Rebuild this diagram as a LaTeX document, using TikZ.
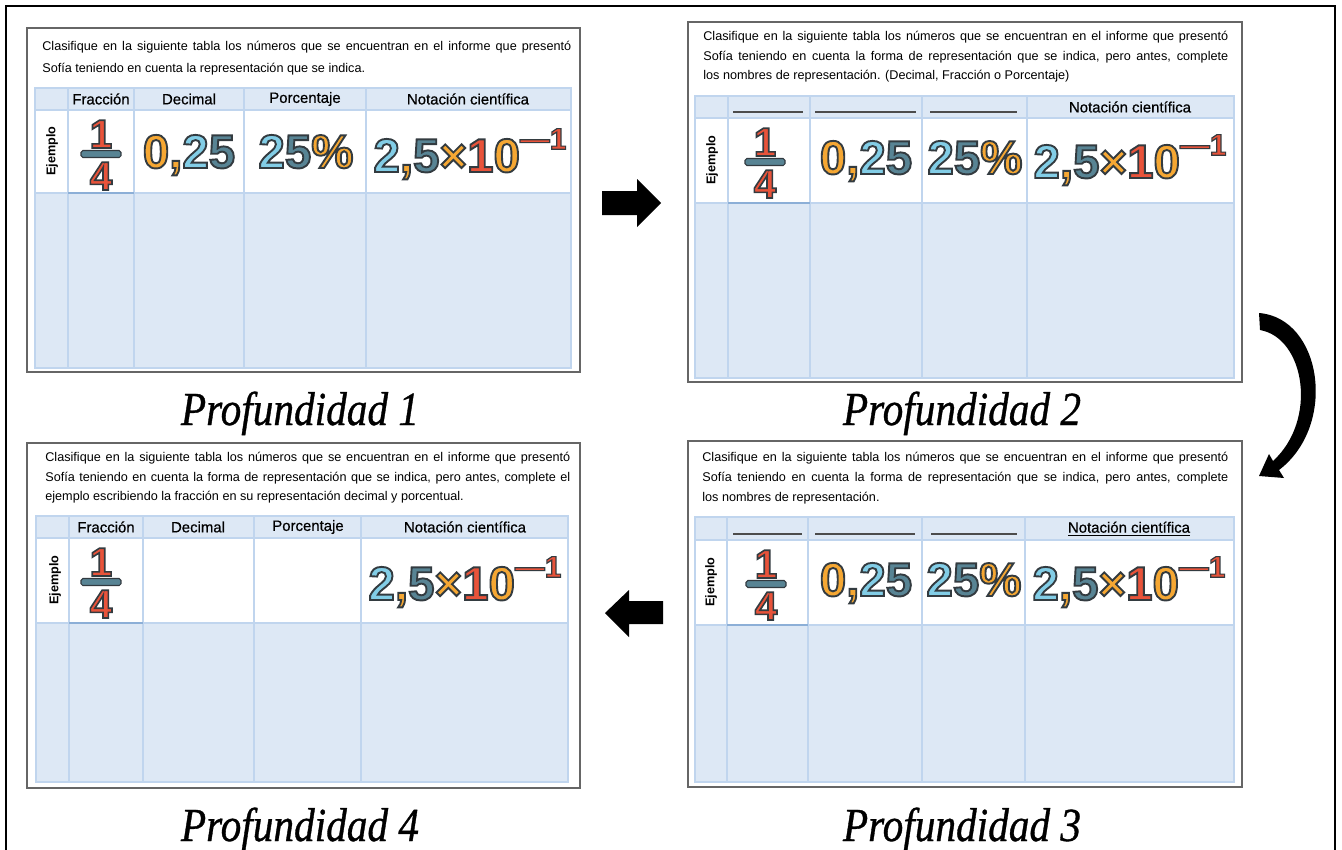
\documentclass[tikz,border=0pt]{standalone}
\usepackage{fontspec}
\usepackage{graphicx}
\usepackage{tikz}
\usetikzlibrary{calc}
\newfontfamily\bodyfont{Liberation Sans}
\newfontfamily\headfont{Liberation Sans}[FakeBold=0.6]
\newfontfamily\numfont{Liberation Sans}[UprightFont={* Bold},FakeBold=4]
\newfontfamily\titlefont{Liberation Serif}[UprightFont={* Italic},FakeBold=0.8]
\definecolor{tbl_blue}{RGB}{221, 232, 245}
\definecolor{grid_blue}{RGB}{192, 213, 238}
\definecolor{frac_line}{RGB}{140, 175, 215}
\definecolor{num_red}{RGB}{232, 83, 58}
\definecolor{num_orange}{RGB}{245, 167, 51}
\definecolor{num_light}{RGB}{130, 205, 230}
\definecolor{num_teal}{RGB}{88, 132, 148}
\definecolor{num_line}{RGB}{50, 58, 64}
\newcommand{\fline}[2]{\makebox[#1][s]{#2}}
\newcommand{\dg}[2]{\textcolor{#1}{\special{pdf:code 0.20 0.23 0.25 RG}#2}}
\newcommand{\decnum}{\dg{num_orange}{0,}\dg{num_light}{2}\dg{num_teal}{5}}
\newcommand{\pctnum}{\dg{num_light}{2}\dg{num_teal}{5}\dg{num_orange}{\%}}
\newcommand{\scinum}{\dg{num_light}{2}\dg{num_orange}{,}\dg{num_teal}{5}\dg{num_orange}{×}\dg{num_red}{1}\dg{num_orange}{0}%
  \raisebox{13pt}{\fontsize{17}{17}\selectfont\dg{num_red}{—1}}}
\tikzstyle{panel}=[draw=black!60,line width=0.9pt,fill=white]
\tikzstyle{grid}=[draw=grid_blue,line width=0.7pt]
\tikzstyle{fracline}=[draw=frac_line,line width=0.9pt]
\tikzstyle{body}=[anchor=west,inner sep=0pt,font=\bodyfont\fontsize{7.2}{9}\selectfont]
\tikzstyle{head}=[inner sep=0pt,font=\headfont\fontsize{8.5}{10}\selectfont]
\tikzstyle{ejem}=[rotate=90,inner sep=0pt,font=\bodyfont\bfseries\fontsize{7.2}{9}\selectfont]
\tikzstyle{big}=[anchor=base,inner sep=0pt,font=\numfont\fontsize{27}{30}\selectfont]
\tikzstyle{frac}=[anchor=base,inner sep=0pt,font=\numfont\fontsize{23}{24}\selectfont]
\tikzstyle{fbar}=[rectangle,rounded corners=1pt,fill=num_teal,draw=num_line,line width=0.6pt,
  minimum width=0.8cm,minimum height=0.14cm,inner sep=0pt]
\tikzstyle{blank}=[draw=black!70,line width=0.6pt]
\tikzstyle{title}=[anchor=base,inner sep=0pt,font=\titlefont\fontsize{27}{30}\selectfont]
\tikzstyle{bigarrow}=[fill=black]

\begin{document}
\begin{tikzpicture}[x=0.02cm,y=-0.02cm]
    \useasboundingbox (0,0) rectangle (1342,849);
    \draw [line width=1.6pt] (6,870) -- (6,6) -- (1335,6) -- (1335,870);
    % Profundidad 1
    \draw [style=panel] (27,28) rectangle (580,372);
    \node [style=body] (t1a) at (42,47) {\fline{10.58cm}{Clasifique en la siguiente tabla los números que se encuentran en el informe que presentó}};
    \node [style=body] (t1b) at (42,69) {Sofía teniendo en cuenta la representación que se indica.};
    \fill [tbl_blue] (35,88) rectangle (571,368);
    \fill [white] (35,110) rectangle (571,193);
    \draw [style=grid] (35,88) rectangle (571,368) (35,110) -- (571,110) (35,193) -- (571,193)
        (68,88) -- (68,368) (134,88) -- (134,368) (244,88) -- (244,368) (366,88) -- (366,368);
    \draw [style=fracline] (68,193) -- (134,193);
    \node [style=head] (h1a) at (101,99) {Fracción};
    \node [style=head] (h1b) at (189,99) {Decimal};
    \node [style=head] (h1c) at (305,99) {Porcentaje};
    \node [style=head] (h1d) at (468,99) {Notación científica};
    \node [style=ejem] (e1) at (52,151) {Ejemplo};
    \node [style=frac] (f1n) at (101,148) {\dg{num_red}{1}};
    \node [style=fbar] (f1b) at (101,154) {};
    \node [style=frac] (f1d) at (101,190) {\dg{num_red}{4}};
    \node [style=big] (d1) at (189,168) {\decnum};
    \node [style=big] (p1) at (306,168) {\pctnum};
    \node [style=big] (s1) at (470,172) {\scinum};
    \node [style=title] (T1) at (300,425) {\scalebox{0.87}[1]{Profundidad 1}};
    % Profundidad 2
    \draw [style=panel] (688,22) rectangle (1242,382);
    \node [style=body] (t2a) at (703,37) {\fline{10.5cm}{Clasifique en la siguiente tabla los números que se encuentran en el informe que presentó}};
    \node [style=body] (t2b) at (703,57) {\fline{10.5cm}{Sofía teniendo en cuenta la forma de representación que se indica, pero antes, complete}};
    \node [style=body] (t2c) at (703,76) {los nombres de representación. (Decimal, Fracción o Porcentaje)};
    \fill [tbl_blue] (695,96) rectangle (1234,378);
    \fill [white] (695,118) rectangle (1234,203);
    \draw [style=grid] (695,96) rectangle (1234,378) (695,118) -- (1234,118) (695,203) -- (1234,203)
        (728,96) -- (728,378) (810,96) -- (810,378) (922,96) -- (922,378) (1027,96) -- (1027,378);
    \draw [style=fracline] (728,203) -- (810,203);
    \draw [style=blank] (733,112) -- (803,112) (815,112) -- (916,112) (930,112) -- (1017,112);
    \node [style=head] (h2d) at (1130,107) {Notación científica};
    \node [style=ejem] (e2) at (712,160) {Ejemplo};
    \node [style=frac] (f2n) at (765,156) {\dg{num_red}{1}};
    \node [style=fbar] (f2b) at (765,162) {};
    \node [style=frac] (f2d) at (765,198) {\dg{num_red}{4}};
    \node [style=big] (d2) at (866,174) {\decnum};
    \node [style=big] (p2) at (975,174) {\pctnum};
    \node [style=big] (s2) at (1130,178) {\scinum};
    \node [style=title] (T2) at (962,425) {\scalebox{0.87}[1]{Profundidad 2}};
    % Profundidad 3
    \draw [style=panel] (688,441) rectangle (1242,787);
    \node [style=body] (t3a) at (702,458) {\fline{10.52cm}{Clasifique en la siguiente tabla los números que se encuentran en el informe que presentó}};
    \node [style=body] (t3b) at (702,478) {\fline{10.52cm}{Sofía teniendo en cuenta la forma de representación que se indica, pero antes, complete}};
    \node [style=body] (t3c) at (702,498) {los nombres de representación.};
    \fill [tbl_blue] (695,517) rectangle (1234,782);
    \fill [white] (695,540) rectangle (1234,625);
    \draw [style=grid] (695,517) rectangle (1234,782) (695,540) -- (1234,540) (695,625) -- (1234,625)
        (727,517) -- (727,782) (808,517) -- (808,782) (922,517) -- (922,782) (1025,517) -- (1025,782);
    \draw [style=fracline] (727,625) -- (808,625);
    \draw [style=blank] (733,534) -- (802,534) (815,534) -- (915,534) (931,534) -- (1017,534);
    \node [style=head] (h3d) at (1129,529) {\underline{Notación científica}};
    \node [style=ejem] (e3) at (711,582) {Ejemplo};
    \node [style=frac] (f3n) at (766,578) {\dg{num_red}{1}};
    \node [style=fbar] (f3b) at (766,584) {};
    \node [style=frac] (f3d) at (766,620) {\dg{num_red}{4}};
    \node [style=big] (d3) at (866,596) {\decnum};
    \node [style=big] (p3) at (974,596) {\pctnum};
    \node [style=big] (s3) at (1129,600) {\scinum};
    \node [style=title] (T3) at (962,841) {\scalebox{0.87}[1]{Profundidad 3}};
    % Profundidad 4
    \draw [style=panel] (27,443) rectangle (580,788);
    \node [style=body] (t4a) at (45,458) {\fline{10.5cm}{Clasifique en la siguiente tabla los números que se encuentran en el informe que presentó}};
    \node [style=body] (t4b) at (45,478) {\fline{10.5cm}{Sofía teniendo en cuenta la forma de representación que se indica, pero antes, complete el}};
    \node [style=body] (t4c) at (45,497) {ejemplo escribiendo la fracción en su representación decimal y porcentual.};
    \fill [tbl_blue] (36,516) rectangle (568,782);
    \fill [white] (36,538) rectangle (568,623);
    \draw [style=grid] (36,516) rectangle (568,782) (36,538) -- (568,538) (36,623) -- (568,623)
        (69,516) -- (69,782) (143,516) -- (143,782) (254,516) -- (254,782) (361,516) -- (361,782);
    \draw [style=fracline] (69,623) -- (143,623);
    \node [style=head] (h4a) at (106,527) {Fracción};
    \node [style=head] (h4b) at (198,527) {Decimal};
    \node [style=head] (h4c) at (308,527) {Porcentaje};
    \node [style=head] (h4d) at (465,527) {Notación científica};
    \node [style=ejem] (e4) at (55,580) {Ejemplo};
    \node [style=frac] (f4n) at (101,576) {\dg{num_red}{1}};
    \node [style=fbar] (f4b) at (101,582) {};
    \node [style=frac] (f4d) at (101,618) {\dg{num_red}{4}};
    \node [style=big] (s4) at (465,600) {\scinum};
    \node [style=title] (T4) at (300,841) {\scalebox{0.87}[1]{Profundidad 4}};
    % flechas
    \fill [style=bigarrow] (602,191) -- (637,191) -- (637,179) -- (661,203) -- (637,227) -- (637,215) -- (602,215) -- cycle;
    \fill [style=bigarrow] (1259,313) .. controls (1322,318) and (1338,425) .. (1279,470) -- (1284,478) -- (1259,476)
        -- (1269,454) -- (1273,461) .. controls (1318,420) and (1305,338) .. (1260,330) -- cycle;
    \fill [style=bigarrow] (663,601) -- (629,601) -- (629,590) -- (605,613) -- (629,637) -- (629,624) -- (663,624) -- cycle;
\end{tikzpicture}
\end{document}
